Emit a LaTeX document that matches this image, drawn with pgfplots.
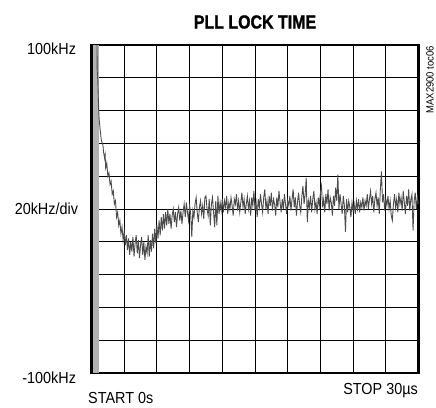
\documentclass[border=0pt]{standalone}
\usepackage{fontspec}
\setmainfont{Liberation Sans}[FakeStretch=0.9]
\newfontfamily\titlefont{Liberation Sans Bold}[FakeStretch=0.84, FakeBold=1.2]
\usepackage{pgfplots}
\pgfplotsset{compat=1.18}
\usepackage{pgfplotstable}
\pgfplotstableread{
t v
0.50 100
0.52 85
0.58 78
0.65 62
0.70 55
0.80 48
0.90 42
1.05 39
1.1 35
1.2 31
1.25 33
1.3 25
1.4 28
1.5 20
1.6 22
1.7 15
1.8 17
1.9 9
2.0 11
2.1 3
2.2 5
2.3 -5
2.4 -2
2.5 -10
2.6 -7
2.7 -15
2.8 -11
2.9 -19
3.0 -14
3.1 -22
3.2 -16
3.3 -25
3.4 -18
3.5 -28
3.6 -20
3.7 -26
3.8 -17
3.9 -29
4.0 -21
4.1 -16
4.2 -27
4.3 -19
4.4 -30
4.5 -22
4.6 -17
4.7 -28
4.8 -20
4.9 -31
5.0 -23
5.1 -27
5.2 -16
5.3 -29
5.4 -19
5.5 -26
5.6 -15
5.7 -24
5.8 -12
5.9 -21
6.0 -10
6.1 -18
6.2 -7
6.3 -16
6.4 -5
6.5 -13
6.6 -3
6.7 -12
6.8 -2
6.9 -10
7.0 0
7.1 -9
7.2 -3
7.3 -12
7.4 -4
7.5 0
7.6 -8
7.7 -2
7.8 -11
7.9 -3
8.0 1
8.1 -7
8.2 -1
8.3 -9
8.4 -2
8.5 3
8.6 -5
8.7 4
8.8 -2
8.9 -7
9.0 2
9.1 -3
9.2 -17
9.3 -1
9.4 -5
9.5 3
9.6 7
9.7 -2
9.8 -8
9.9 1
10.0 5
10.1 -3
10.2 2
10.3 -6
10.4 7
10.5 8
10.6 0
10.7 -4
10.8 6
10.9 -10
11.0 3
11.1 7
11.2 -2
11.3 -11
11.4 5
11.5 -10
11.6 8
11.7 -3
11.8 4
11.9 -1
12.0 6
12.1 -2
12.2 5
12.3 1
12.4 8
12.5 -3
12.6 4
12.7 0
12.8 7
12.9 2
13.0 -4
13.1 6
13.2 3
13.3 9
13.4 -1
13.5 5
13.6 -2
13.7 4
13.8 10
13.9 1
14.0 6
14.1 -3
14.2 3
14.3 8
14.4 0
14.5 5
14.6 -4
14.7 7
14.8 2
14.9 11
15.0 -1
15.1 4
15.2 -5
15.3 6
15.4 1
15.5 9
15.6 3
15.7 -2
15.8 7
15.9 12
16.0 0
16.1 5
16.2 -3
16.3 8
16.4 2
16.5 10
16.6 -1
16.7 6
16.8 3
16.9 -4
17.0 7
17.1 1
17.2 11
17.3 4
17.4 -2
17.5 6
17.6 0
17.7 9
17.8 3
17.9 -3
18.0 5
18.1 2
18.2 8
18.3 -1
18.4 6
18.5 12
18.6 1
18.7 7
18.8 -4
18.9 4
19.0 10
19.1 2
19.2 -2
19.3 8
19.4 14
19.5 3
19.6 9
19.7 19
19.8 -8
19.9 5
20.0 1
20.1 8
20.2 -2
20.3 6
20.4 11
20.5 0
20.6 4
20.7 -3
20.8 7
20.9 2
21.0 10
21.1 14
21.2 1
21.3 6
21.4 -2
21.5 9
21.6 3
21.7 12
21.8 -1
21.9 7
22.0 4
22.1 -4
22.2 8
22.3 2
22.4 13
22.5 5
22.6 21
22.7 0
22.8 9
22.9 3
23.0 -3
23.1 8
23.2 2
23.3 -14
23.4 6
23.5 -2
23.6 5
23.7 1
23.8 -5
23.9 4
24.0 -1
24.1 3
24.2 -3
24.3 5
24.4 0
24.5 6
24.6 -2
24.7 4
24.8 1
24.9 7
25.0 -1
25.1 5
25.2 2
25.3 9
25.4 0
25.5 6
25.6 11
25.7 3
25.8 8
25.9 -2
26.0 6
26.1 10
26.2 2
26.3 7
26.4 -3
26.5 12
26.6 23
26.7 4
26.8 9
26.9 -1
27.0 6
27.1 2
27.2 8
27.3 0
27.4 5
27.5 -4
27.6 -7
27.7 3
27.8 9
27.9 1
28.0 6
28.1 -2
28.2 10
28.3 3
28.4 7
28.5 -1
28.6 11
28.7 4
28.8 -3
28.9 8
29.0 2
29.1 12
29.2 -1
29.3 6
29.4 9
29.5 -13
29.6 5
29.7 10
29.8 0
29.9 7
30.0 3
}\tracedata
\begin{document}
\begin{tikzpicture}
\useasboundingbox (-91.5bp,-35bp) rectangle (344.5bp,373bp);
\begin{axis}[
  at={(0,0)}, anchor=south west,
  scale only axis,
  width=327bp, height=328bp,
  xmin=0, xmax=30, ymin=-100, ymax=100,
  xtick={0,3,...,30}, ytick={-100,-80,...,100},
  xticklabels={}, yticklabels={},
  major tick length=0pt,
  grid=major,
  major grid style={black, line width=0.9pt},
  axis line style={black, line width=2.6pt},
]
\addplot[fill=gray!60, draw=none] coordinates {(0.12,-100) (0.7,-100) (0.7,100) (0.12,100)} -- cycle;
\addplot[black!70, line width=0.9pt] table[x=t, y=v] {\tracedata};
\end{axis}
\node[font=\fontsize{19bp}{21bp}\titlefont] at (163.5bp,351bp) {PLL LOCK TIME};
\node[anchor=east, font=\fontsize{16bp}{18bp}\selectfont] at (-12bp,324bp) {100kHz};
\node[anchor=east, font=\fontsize{16bp}{18bp}\selectfont] at (-10bp,164bp) {20kHz/div};
\node[anchor=east, font=\fontsize{16bp}{18bp}\selectfont] at (-12bp,-5bp) {-100kHz};
\node[anchor=west, inner sep=0pt, font=\fontsize{16bp}{18bp}\selectfont] at (-3.5bp,-25bp) {START 0s};
\node[anchor=east, inner sep=0pt, font=\fontsize{16bp}{18bp}\selectfont] at (326.5bp,-18bp) {STOP 30µs};
\node[anchor=east, rotate=90, inner sep=0pt, font=\fontsize{10.5bp}{12bp}\selectfont] at (338.5bp,327bp) {MAX2900 toc06};
\end{tikzpicture}
\end{document}
